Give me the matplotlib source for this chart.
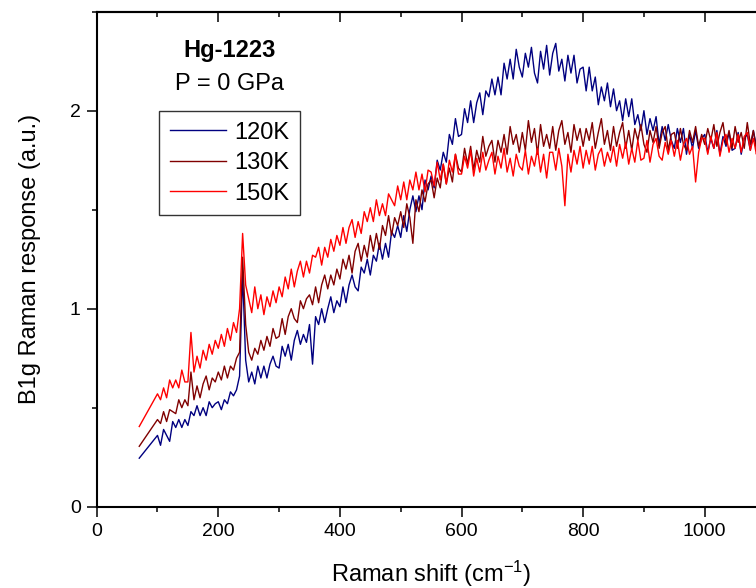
import numpy as np
import matplotlib
matplotlib.use("Agg")
from matplotlib import pyplot as plt
from matplotlib.ticker import MultipleLocator

plt.rcParams['font.family'] = ['Liberation Sans', 'DejaVu Sans']
plt.rcParams['mathtext.fontset'] = 'custom'
plt.rcParams['mathtext.rm'] = 'Liberation Sans'
plt.rcParams['mathtext.it'] = 'Liberation Sans:italic'

# Raman shift grid (cm-1): first point, then the measured range
shift = np.concatenate(([70], np.arange(100, 1101, 5)))

# 120K
b120 = [0.245,
        0.36, 0.31, 0.39, 0.36, 0.33, 0.43, 0.40, 0.44, 0.40, 0.44,
        0.41, 0.48, 0.46, 0.51, 0.46, 0.50, 0.46, 0.53, 0.50, 0.52,
        0.53, 0.49, 0.54, 0.52, 0.58, 0.56, 0.59, 0.66, 1.18, 0.74,
        0.63, 0.68, 0.62, 0.71, 0.65, 0.71, 0.65, 0.72, 0.76, 0.71,
        0.70, 0.81, 0.76, 0.82, 0.74, 0.84, 0.89, 0.82, 0.87, 0.83,
        0.92, 0.72, 0.96, 0.92, 1.00, 0.93, 1.00, 1.06, 0.98, 1.04,
        1.01, 1.11, 1.03, 1.12, 1.17, 1.11, 1.09, 1.21, 1.18, 1.25,
        1.17, 1.27, 1.24, 1.33, 1.25, 1.33, 1.26, 1.39, 1.36, 1.42,
        1.36, 1.47, 1.39, 1.50, 1.57, 1.49, 1.57, 1.50, 1.65, 1.60,
        1.67, 1.61, 1.75, 1.70, 1.79, 1.74, 1.88, 1.83, 1.96, 1.87,
        1.88, 2.01, 1.94, 2.05, 1.94, 2.04, 2.09, 1.98, 2.10, 2.07,
        2.16, 2.08, 2.17, 2.08, 2.24, 2.16, 2.26, 2.16, 2.31, 2.22,
        2.17, 2.29, 2.22, 2.32, 2.19, 2.14, 2.30, 2.21, 2.33, 2.18,
        2.29, 2.34, 2.20, 2.26, 2.15, 2.28, 2.19, 2.28, 2.14, 2.21,
        2.22, 2.10, 2.22, 2.10, 2.17, 2.03, 2.12, 2.05, 2.14, 2.02,
        2.11, 2.00, 2.05, 1.95, 2.06, 1.97, 2.06, 1.93, 1.98, 1.90,
        2.00, 1.88, 1.96, 1.90, 1.97, 1.83, 1.92, 1.85, 1.93, 1.85,
        1.81, 1.91, 1.84, 1.91, 1.78, 1.88, 1.81, 1.90, 1.81, 1.86,
        1.88, 1.79, 1.86, 1.81, 1.90, 1.78, 1.87, 1.82, 1.89, 1.80,
        1.81, 1.89, 1.78, 1.86, 1.88, 1.80, 1.90, 1.82, 1.79, 1.87,
        1.84]

# 130K
b130 = [0.305,
        0.44, 0.42, 0.48, 0.43, 0.49, 0.48, 0.47, 0.54, 0.50, 0.54,
        0.51, 0.68, 0.54, 0.61, 0.55, 0.62, 0.66, 0.59, 0.65, 0.63,
        0.68, 0.64, 0.71, 0.65, 0.71, 0.69, 0.75, 0.78, 1.26, 0.92,
        0.78, 0.74, 0.80, 0.77, 0.84, 0.79, 0.86, 0.81, 0.90, 0.85,
        0.86, 0.95, 0.87, 0.96, 1.00, 0.95, 0.93, 1.04, 1.00, 1.05,
        1.07, 1.02, 1.11, 1.03, 1.12, 1.17, 1.10, 1.17, 1.12, 1.20,
        1.15, 1.25, 1.20, 1.27, 1.18, 1.29, 1.33, 1.24, 1.32, 1.26,
        1.37, 1.29, 1.38, 1.30, 1.42, 1.37, 1.47, 1.37, 1.46, 1.42,
        1.49, 1.41, 1.53, 1.46, 1.33, 1.55, 1.49, 1.60, 1.54, 1.63,
        1.65, 1.56, 1.66, 1.61, 1.73, 1.63, 1.71, 1.64, 1.78, 1.71,
        1.69, 1.81, 1.73, 1.82, 1.70, 1.80, 1.74, 1.87, 1.77, 1.82,
        1.85, 1.74, 1.85, 1.79, 1.88, 1.78, 1.92, 1.83, 1.88, 1.79,
        1.89, 1.80, 1.95, 1.84, 1.91, 1.78, 1.93, 1.82, 1.88, 1.81,
        1.92, 1.80, 1.90, 1.95, 1.83, 1.89, 1.79, 1.93, 1.85, 1.91,
        1.82, 1.91, 1.85, 1.94, 1.81, 1.89, 1.96, 1.83, 1.90, 1.80,
        1.92, 1.82, 1.89, 1.94, 1.81, 1.90, 1.80, 1.91, 1.85, 1.93,
        1.83, 1.79, 1.90, 1.84, 1.92, 1.81, 1.89, 1.92, 1.80, 1.88,
        1.89, 1.81, 1.91, 1.83, 1.80, 1.90, 1.84, 1.92, 1.82, 1.88,
        1.83, 1.91, 1.85, 1.93, 1.82, 1.89, 1.94, 1.83, 1.90, 1.81,
        1.92, 1.84, 1.89, 1.81, 1.94, 1.83, 1.90, 1.80, 1.91, 1.85,
        1.87]

# 150K
b150 = [0.405,
        0.57, 0.54, 0.60, 0.55, 0.64, 0.60, 0.64, 0.60, 0.69, 0.63,
        0.63, 0.88, 0.68, 0.76, 0.70, 0.79, 0.74, 0.82, 0.77, 0.84,
        0.80, 0.87, 0.81, 0.90, 0.84, 0.93, 0.88, 1.00, 1.38, 1.12,
        1.05, 0.98, 1.11, 1.00, 1.07, 0.97, 1.06, 1.01, 1.09, 1.03,
        1.11, 1.06, 1.16, 1.10, 1.20, 1.11, 1.19, 1.24, 1.16, 1.24,
        1.18, 1.27, 1.26, 1.31, 1.22, 1.31, 1.26, 1.35, 1.29, 1.37,
        1.32, 1.41, 1.33, 1.41, 1.45, 1.36, 1.44, 1.38, 1.49, 1.44,
        1.51, 1.44, 1.55, 1.47, 1.53, 1.47, 1.58, 1.55, 1.52, 1.62,
        1.55, 1.64, 1.55, 1.65, 1.60, 1.69, 1.60, 1.68, 1.59, 1.70,
        1.69, 1.62, 1.74, 1.65, 1.73, 1.63, 1.75, 1.69, 1.78, 1.68,
        1.68, 1.77, 1.71, 1.80, 1.67, 1.76, 1.69, 1.79, 1.70, 1.75,
        1.79, 1.68, 1.77, 1.71, 1.81, 1.69, 1.76, 1.67, 1.78, 1.72,
        1.70, 1.80, 1.68, 1.77, 1.72, 1.81, 1.69, 1.78, 1.66, 1.79,
        1.79, 1.70, 1.81, 1.72, 1.52, 1.78, 1.69, 1.80, 1.73, 1.82,
        1.71, 1.80, 1.73, 1.82, 1.70, 1.78, 1.81, 1.72, 1.79, 1.74,
        1.82, 1.72, 1.83, 1.76, 1.84, 1.73, 1.81, 1.74, 1.85, 1.75,
        1.76, 1.85, 1.74, 1.83, 1.86, 1.77, 1.75, 1.84, 1.78, 1.85,
        1.77, 1.85, 1.75, 1.83, 1.86, 1.78, 1.82, 1.64, 1.79, 1.86,
        1.86, 1.78, 1.87, 1.81, 1.89, 1.77, 1.85, 1.88, 1.79, 1.86,
        1.81, 1.88, 1.79, 1.87, 1.89, 1.80, 1.86, 1.78, 1.88, 1.82,
        1.85]

labels = ['120K', '130K', '150K']
colors = ['#000080', '#800000', '#ff0000']

fig = plt.figure(figsize=(7.56, 5.88), dpi=100)
ax = fig.add_axes([0.1279, 0.1383, 0.8847, 0.8418])

for ys, lab, c in zip([b120, b130, b150], labels, colors):
    ax.plot(shift, ys, color=c, lw=1.0, label=lab)

ax.set_xlim(0, 1100)
ax.set_ylim(0, 2.5)
ax.xaxis.set_major_locator(MultipleLocator(200))
ax.xaxis.set_minor_locator(MultipleLocator(100))
ax.yaxis.set_major_locator(MultipleLocator(1))
ax.yaxis.set_minor_locator(MultipleLocator(0.5))

for s in ax.spines.values():
    s.set_linewidth(1.5)
ax.tick_params(which='both', width=1.1, labelsize=14, pad=4)
ax.tick_params(which='major', length=7.5)
ax.tick_params(which='minor', length=3.8)
ax.tick_params(axis='x', which='both', direction='out', top=False)
ax.tick_params(axis='y', which='both', direction='out', right=False)

# inward ticks on top and right
ax_top = ax.secondary_xaxis('top')
ax_top.xaxis.set_major_locator(MultipleLocator(200))
ax_top.xaxis.set_minor_locator(MultipleLocator(100))
ax_top.tick_params(which='both', direction='in', width=1.1, labeltop=False)
ax_top.tick_params(which='major', length=7.5)
ax_top.tick_params(which='minor', length=3.8)
ax_top.spines['top'].set_linewidth(1.5)
ax_right = ax.secondary_yaxis('right')
ax_right.yaxis.set_major_locator(MultipleLocator(1))
ax_right.yaxis.set_minor_locator(MultipleLocator(0.5))
ax_right.tick_params(which='both', direction='in', width=1.1, labelright=False)
ax_right.tick_params(which='major', length=7.5)
ax_right.tick_params(which='minor', length=3.8)

ax.set_xlabel('Raman shift (cm$^{-1}$)', fontsize=17, labelpad=14)
ax.set_ylabel('B1g Raman response (a.u.)', fontsize=17, labelpad=21)

ax.text(219, 2.303, 'Hg-1223', fontsize=17, fontweight='bold', ha='center', va='center')
ax.text(219, 2.136, 'P = 0 GPa', fontsize=17, ha='center', va='center')

leg = ax.legend(loc='upper left', bbox_to_anchor=(0.0932, 0.7994), borderaxespad=0,
                fontsize=17, frameon=True, fancybox=False, edgecolor='black',
                handlelength=2.4, handletextpad=0.35, labelspacing=0.36, borderpad=0.45)
leg.get_frame().set_linewidth(1.0)

fig.savefig('out.png', dpi=100)
